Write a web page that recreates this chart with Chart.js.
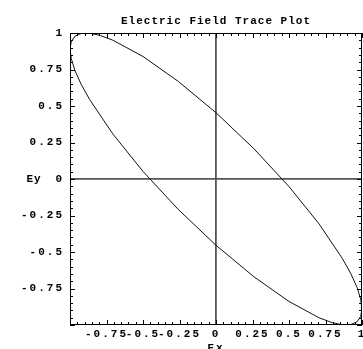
<!DOCTYPE html>
<html>
<head>
<meta charset="utf-8">
<script src="https://cdn.jsdelivr.net/npm/chart.js@4.4.0/dist/chart.umd.min.js"></script>
<style>
  html, body { margin: 0; padding: 0; background: #fff; }
  #wrap { width: 363px; height: 349px; }
</style>
</head>
<body>
<div id="wrap"><canvas id="c" width="363" height="349"></canvas></div>
<script>
// Electric field trace (Ex, Ey)
const exValues = [1.0, 0.991, 0.966, 0.924, 0.866, 0.793, 0.707, 0.5, 0.259, 0.0, -0.259, -0.5, -0.707, -0.866, -0.924, -0.966, -0.991,
                  -1.0, -0.991, -0.966, -0.924, -0.866, -0.793, -0.707, -0.5, -0.259, 0.0, 0.259, 0.5, 0.707, 0.866, 0.924, 0.966, 0.991, 1.0];
const eyValues = [-0.891, -0.942, -0.978, -0.997, -0.999, -0.983, -0.951, -0.839, -0.669, -0.454, -0.208, 0.052, 0.309, 0.545, 0.649, 0.743, 0.824,
                  0.891, 0.942, 0.978, 0.997, 0.999, 0.983, 0.951, 0.839, 0.669, 0.454, 0.208, -0.052, -0.309, -0.545, -0.649, -0.743, -0.824, -0.891];

const tickValues = [-1, -0.75, -0.5, -0.25, 0, 0.25, 0.5, 0.75, 1];
const xTickLabels = ['', '-0.75', '-0.5', '-0.25', '0', '0.25', '0.5', '0.75', '1'];
const yTickLabels = ['', '-0.75', '-0.5', '-0.25', '0', '0.25', '0.5', '0.75', '1'];

const titleText = 'Electric Field Trace Plot';
const xTitle = 'Ex';
const yTitle = 'Ey';

const monoFont = "'Liberation Mono', 'DejaVu Sans Mono', monospace";

function labelFor(labels, v) {
  const i = tickValues.findIndex(t => Math.abs(t - v) < 1e-9);
  return i >= 0 ? labels[i] : '';
}

const spacingPlugin = {
  id: 'spacing',
  beforeDraw(chart) {
    if ('letterSpacing' in chart.ctx) chart.ctx.letterSpacing = '2px';
  }
};

const framePlugin = {
  id: 'frame',
  afterDatasetsDraw(chart) {
    const { ctx, chartArea: a, scales: { x, y } } = chart;
    ctx.save();
    ctx.strokeStyle = '#000';
    ctx.lineWidth = 1;
    ctx.strokeRect(a.left + 0.5, a.top + 0.5, a.right - a.left - 1, a.bottom - a.top - 1);
    ctx.beginPath();
    for (let k = -20; k <= 20; k++) {
      const v = k * 0.05;
      const len = (k % 5 === 0) ? 5 : 3;
      const px = Math.round(x.getPixelForValue(v)) + 0.5;
      const py = Math.round(y.getPixelForValue(v)) + 0.5;
      ctx.moveTo(px, a.bottom); ctx.lineTo(px, a.bottom - len);
      ctx.moveTo(px, a.top); ctx.lineTo(px, a.top + len);
      ctx.moveTo(a.left, py); ctx.lineTo(a.left + len, py);
      ctx.moveTo(a.right, py); ctx.lineTo(a.right - len, py);
    }
    ctx.stroke();
    ctx.fillStyle = '#000';
    if ('letterSpacing' in ctx) ctx.letterSpacing = '1px';
    ctx.font = "bold 11px " + monoFont;
    ctx.textAlign = 'center';
    ctx.textBaseline = 'middle';
    ctx.fillText(titleText, x.getPixelForValue(0), 21);
    ctx.fillText(yTitle, 34, y.getPixelForValue(0));
    ctx.restore();
  }
};

const points = exValues.map((ex, i) => ({ x: ex, y: eyValues[i] }));

new Chart(document.getElementById('c'), {
  type: 'scatter',
  data: {
    datasets: [{
      data: points,
      showLine: true,
      borderColor: '#111',
      borderWidth: 1,
      pointRadius: 0,
      tension: 0,
      fill: false
    }]
  },
  options: {
    responsive: false,
    animation: false,
    devicePixelRatio: 1,
    layout: { padding: { left: 0, right: 1, top: 33, bottom: 0 } },
    plugins: {
      legend: { display: false },
      tooltip: { enabled: false },
      title: { display: false }
    },
    scales: {
      x: {
        type: 'linear',
        min: -1, max: 1,
        afterFit(scale) { scale.height = 24; scale.paddingLeft = 0; scale.paddingRight = 0; },
        afterBuildTicks(scale) { scale.ticks = tickValues.map(v => ({ value: v })); },
        ticks: {
          autoSkip: false, maxRotation: 0, minRotation: 0,
          padding: 3,
          color: '#000',
          font: { family: monoFont, size: 11, weight: 'bold' },
          callback: v => labelFor(xTickLabels, v)
        },
        grid: {
          drawTicks: false,
          color: c => (c.tick && c.tick.value === 0) ? '#555' : 'rgba(0,0,0,0)',
          lineWidth: 1.8
        },
        border: { display: false },
        title: {
          display: true, text: xTitle, color: '#000',
          font: { family: monoFont, size: 11, weight: 'bold', lineHeight: 1.2 },
          padding: { top: 0, bottom: -6 }
        }
      },
      y: {
        type: 'linear',
        min: -1, max: 1,
        afterFit(scale) { scale.width = 70; scale.paddingTop = 0; scale.paddingBottom = 0; },
        afterBuildTicks(scale) { scale.ticks = tickValues.map(v => ({ value: v })); },
        ticks: {
          autoSkip: false,
          padding: 6,
          color: '#000',
          font: { family: monoFont, size: 11, weight: 'bold' },
          callback: v => labelFor(yTickLabels, v)
        },
        grid: {
          drawTicks: false,
          color: c => (c.tick && c.tick.value === 0) ? '#555' : 'rgba(0,0,0,0)',
          lineWidth: 1.8
        },
        border: { display: false }
      }
    }
  },
  plugins: [spacingPlugin, framePlugin]
});
</script>
</body>
</html>
